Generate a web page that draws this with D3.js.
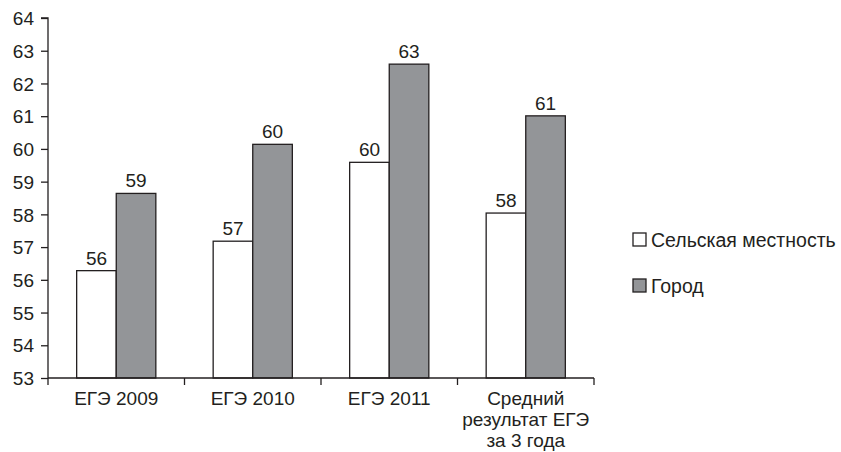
<!DOCTYPE html>
<html>
<head>
<meta charset="utf-8">
<script src="https://cdn.jsdelivr.net/npm/d3@7"></script>
<style>
  html, body { margin: 0; padding: 0; background: #fff; }
  svg text { font-family: "Liberation Sans", Arial, Helvetica, sans-serif; fill: #231f20; }
</style>
</head>
<body>
<svg id="chart" width="841" height="452"></svg>
<script>
// Average exam scores, countryside vs city
const categories = [
  ["ЕГЭ 2009"],
  ["ЕГЭ 2010"],
  ["ЕГЭ 2011"],
  ["Средний", "результат ЕГЭ", "за 3 года"]
];
const seriesNames = ["Сельская местность", "Город"];
const ruralValues = [56.28, 57.18, 59.59, 58.04];
const cityValues  = [58.64, 60.14, 62.59, 61.01];
const yTicks = [53, 54, 55, 56, 57, 58, 59, 60, 61, 62, 63, 64];

const fills = ["#ffffff", "#939598"];
const ink = "#231f20";
const fs = 19;

const svg = d3.select("#chart");
const margin = { left: 48, right: 841 - 594, top: 18, bottom: 452 - 378 };
const innerW = 841 - margin.left - margin.right;
const innerH = 452 - margin.top - margin.bottom;

const g = svg.append("g").attr("transform", `translate(${margin.left},${margin.top})`);

const x0 = d3.scaleBand().domain(d3.range(categories.length)).range([0, innerW]).paddingInner(0).paddingOuter(0);
const x1 = d3.scaleBand().domain([0, 1]).range([0, x0.bandwidth() * 0.58]);
const groupOffset = x0.bandwidth() * (1 - 0.58) / 2;
const y = d3.scaleLinear().domain([53, 64]).range([innerH, 0]);

// bars
const series = [ruralValues, cityValues];
categories.forEach((c, i) => {
  const grp = g.append("g").attr("transform", `translate(${x0(i) + groupOffset},0)`);
  series.forEach((vals, s) => {
    const v = vals[i];
    grp.append("rect")
      .attr("x", x1(s))
      .attr("y", y(v))
      .attr("width", x1.bandwidth())
      .attr("height", innerH - y(v))
      .attr("fill", fills[s])
      .attr("stroke", ink)
      .attr("stroke-width", 1.3);
    grp.append("text")
      .attr("x", x1(s) + x1.bandwidth() / 2)
      .attr("y", y(v) - 6)
      .attr("text-anchor", "middle")
      .attr("font-size", fs)
      .text(d3.format(".0f")(v));
  });
});

// y axis
const yAxis = d3.axisLeft(y).tickValues(yTicks).tickSize(7).tickPadding(7).tickFormat(d3.format("d"));
const ya = g.append("g").call(yAxis);
ya.select(".domain").attr("stroke", ink).attr("stroke-width", 1.3).attr("d", `M0,${innerH}V0H-7`);
ya.selectAll(".tick line").attr("stroke", ink).attr("stroke-width", 1.3);
ya.selectAll(".tick text").attr("font-size", fs).attr("fill", ink).attr("dy", "0.35em");

// x axis: ticks at band boundaries
const xa = g.append("g").attr("transform", `translate(0,${innerH})`);
xa.append("line").attr("x1", 0).attr("x2", innerW).attr("stroke", ink).attr("stroke-width", 1.3);
const bounds = d3.range(categories.length + 1).map(i => i < categories.length ? x0(i) : x0(i - 1) + x0.bandwidth());
xa.selectAll("line.tk").data(bounds).join("line")
  .attr("class", "tk")
  .attr("x1", d => d).attr("x2", d => d)
  .attr("y1", 0).attr("y2", 7)
  .attr("stroke", ink).attr("stroke-width", 1.3);
categories.forEach((lines, i) => {
  const t = xa.append("text")
    .attr("x", x0(i) + x0.bandwidth() / 2)
    .attr("y", 27)
    .attr("text-anchor", "middle")
    .attr("font-size", fs);
  lines.forEach((ln, k) => {
    t.append("tspan").attr("x", x0(i) + x0.bandwidth() / 2).attr("dy", k === 0 ? 0 : 21).text(ln);
  });
});

// legend
const legend = svg.append("g").attr("transform", "translate(633,233)");
seriesNames.forEach((name, s) => {
  const row = legend.append("g").attr("transform", `translate(0,${s * 46})`);
  row.append("rect").attr("width", 13).attr("height", 13)
    .attr("fill", fills[s]).attr("stroke", ink).attr("stroke-width", 1.3);
  row.append("text").attr("x", 18).attr("y", 13.5).attr("font-size", fs + 0.5).text(name);
});
</script>
</body>
</html>
